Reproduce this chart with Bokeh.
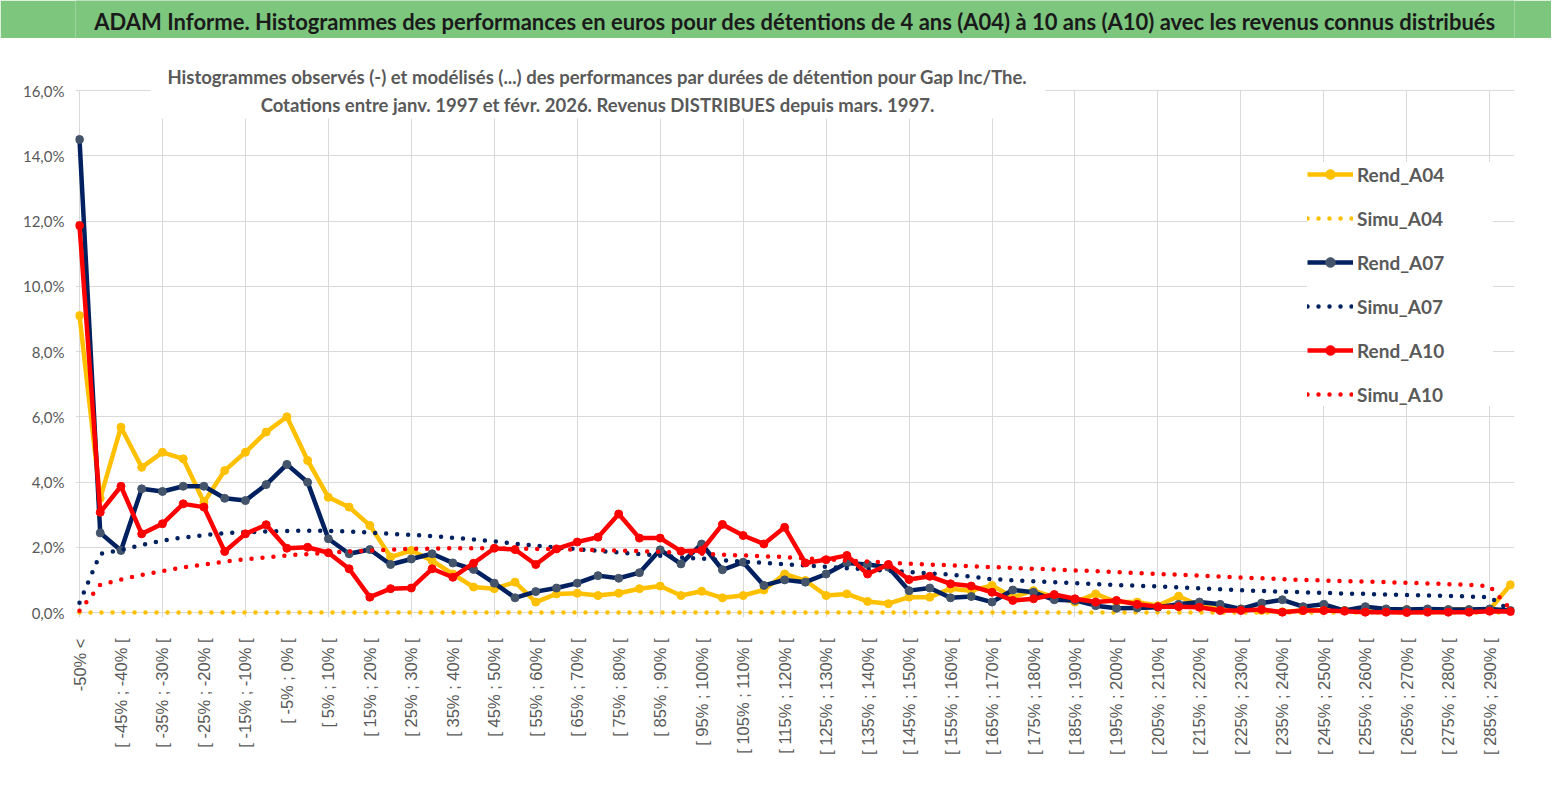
from bokeh.plotting import figure
from bokeh.models import FixedTicker, Legend, LegendItem, Label, BoxAnnotation, Range1d
from bokeh.layouts import column
from bokeh.embed import file_html
from bokeh.resources import INLINE

# ---------------- data ----------------
categories = [
    "-50% <", "[ -50% ; -45% [", "[ -45% ; -40% [", "[ -40% ; -35% [", "[ -35% ; -30% [",
    "[ -30% ; -25% [", "[ -25% ; -20% [", "[ -20% ; -15% [", "[ -15% ; -10% [", "[ -10% ; -5% [",
    "[ -5% ; 0% [", "[ 0% ; 5% [", "[ 5% ; 10% [", "[ 10% ; 15% [", "[ 15% ; 20% [",
    "[ 20% ; 25% [", "[ 25% ; 30% [", "[ 30% ; 35% [", "[ 35% ; 40% [", "[ 40% ; 45% [",
    "[ 45% ; 50% [", "[ 50% ; 55% [", "[ 55% ; 60% [", "[ 60% ; 65% [", "[ 65% ; 70% [",
    "[ 70% ; 75% [", "[ 75% ; 80% [", "[ 80% ; 85% [", "[ 85% ; 90% [", "[ 90% ; 95% [",
    "[ 95% ; 100% [", "[ 100% ; 105% [", "[ 105% ; 110% [", "[ 110% ; 115% [", "[ 115% ; 120% [",
    "[ 120% ; 125% [", "[ 125% ; 130% [", "[ 130% ; 135% [", "[ 135% ; 140% [", "[ 140% ; 145% [",
    "[ 145% ; 150% [", "[ 150% ; 155% [", "[ 155% ; 160% [", "[ 160% ; 165% [", "[ 165% ; 170% [",
    "[ 170% ; 175% [", "[ 175% ; 180% [", "[ 180% ; 185% [", "[ 185% ; 190% [", "[ 190% ; 195% [",
    "[ 195% ; 200% [", "[ 200% ; 205% [", "[ 205% ; 210% [", "[ 210% ; 215% [", "[ 215% ; 220% [",
    "[ 220% ; 225% [", "[ 225% ; 230% [", "[ 230% ; 235% [", "[ 235% ; 240% [", "[ 240% ; 245% [",
    "[ 245% ; 250% [", "[ 250% ; 255% [", "[ 255% ; 260% [", "[ 260% ; 265% [", "[ 265% ; 270% [",
    "[ 270% ; 275% [", "[ 275% ; 280% [", "[ 280% ; 285% [", "[ 285% ; 290% [", "[ 290% ; 295% [",
]

# values in percent
rend_a04 = [9.10, 3.50, 5.68, 4.45, 4.91, 4.71, 3.38, 4.35, 4.91, 5.53,
            6.00, 4.66, 3.53, 3.23, 2.67, 1.70, 1.90, 1.59, 1.18, 0.78,
            0.73, 0.93, 0.32, 0.57, 0.59, 0.52, 0.59, 0.73, 0.81, 0.52,
            0.65, 0.45, 0.52, 0.69, 1.18, 0.98, 0.52, 0.57, 0.34, 0.27,
            0.47, 0.47, 0.73, 0.67, 0.83, 0.47, 0.67, 0.47, 0.32, 0.57,
            0.32, 0.32, 0.21, 0.50, 0.21, 0.11, 0.11, 0.06, 0.02, 0.06,
            0.08, 0.06, 0.02, 0.08, 0.09, 0.09, 0.09, 0.09, 0.09, 0.85]

simu_a04 = [0.00, 0.00, 0.00, 0.00, 0.00, 0.00, 0.00, 0.00, 0.00, 0.00,
            0.00, 0.00, 0.00, 0.00, 0.00, 0.00, 0.00, 0.00, 0.00, 0.00,
            0.00, 0.00, 0.00, 0.00, 0.00, 0.00, 0.00, 0.00, 0.00, 0.00,
            0.00, 0.00, 0.00, 0.00, 0.00, 0.00, 0.00, 0.00, 0.00, 0.00,
            0.00, 0.00, 0.00, 0.00, 0.00, 0.00, 0.00, 0.00, 0.00, 0.00,
            0.00, 0.00, 0.00, 0.00, 0.00, 0.00, 0.00, 0.00, 0.00, 0.00,
            0.00, 0.00, 0.00, 0.00, 0.00, 0.00, 0.00, 0.00, 0.00, 0.00]

rend_a07 = [14.50, 2.44, 1.90, 3.79, 3.71, 3.87, 3.87, 3.50, 3.43, 3.92,
            4.54, 3.99, 2.26, 1.80, 1.93, 1.47, 1.64, 1.80, 1.52, 1.32,
            0.90, 0.45, 0.64, 0.75, 0.90, 1.13, 1.05, 1.22, 1.92, 1.49,
            2.10, 1.31, 1.54, 0.83, 1.00, 0.93, 1.18, 1.52, 1.47, 1.39,
            0.67, 0.75, 0.45, 0.49, 0.32, 0.69, 0.62, 0.39, 0.37, 0.21,
            0.13, 0.14, 0.16, 0.25, 0.32, 0.25, 0.11, 0.29, 0.39, 0.18,
            0.25, 0.06, 0.18, 0.11, 0.09, 0.11, 0.09, 0.09, 0.11, 0.06]

simu_a07 = [0.30, 1.80, 1.92, 2.07, 2.20, 2.30, 2.37, 2.43, 2.46, 2.48,
            2.50, 2.51, 2.50, 2.48, 2.45, 2.41, 2.38, 2.34, 2.29, 2.24,
            2.18, 2.11, 2.05, 1.99, 1.94, 1.89, 1.84, 1.79, 1.74, 1.69,
            1.65, 1.60, 1.56, 1.52, 1.48, 1.44, 1.40, 1.36, 1.32, 1.28,
            1.24, 1.20, 1.16, 1.10, 1.02, 0.99, 0.96, 0.93, 0.90, 0.87,
            0.84, 0.82, 0.80, 0.77, 0.74, 0.71, 0.68, 0.66, 0.64, 0.62,
            0.60, 0.58, 0.57, 0.55, 0.54, 0.52, 0.51, 0.49, 0.47, 0.05]

rend_a10 = [11.86, 3.07, 3.87, 2.41, 2.72, 3.33, 3.23, 1.87, 2.41, 2.69,
            1.97, 2.00, 1.83, 1.34, 0.47, 0.73, 0.75, 1.34, 1.08, 1.51,
            1.97, 1.93, 1.47, 1.95, 2.16, 2.31, 3.02, 2.28, 2.28, 1.88,
            1.90, 2.70, 2.36, 2.10, 2.61, 1.52, 1.62, 1.75, 1.18, 1.47,
            1.01, 1.11, 0.88, 0.81, 0.62, 0.37, 0.42, 0.55, 0.42, 0.32,
            0.37, 0.25, 0.18, 0.18, 0.16, 0.06, 0.06, 0.09, 0.01, 0.06,
            0.06, 0.04, 0.01, 0.01, 0.00, 0.01, 0.01, 0.01, 0.04, 0.03]

simu_a10 = [0.05, 0.85, 1.01, 1.15, 1.27, 1.38, 1.47, 1.56, 1.63, 1.69,
            1.75, 1.79, 1.83, 1.87, 1.90, 1.93, 1.95, 1.96, 1.97, 1.97,
            1.97, 1.96, 1.95, 1.94, 1.93, 1.91, 1.90, 1.88, 1.86, 1.83,
            1.80, 1.77, 1.75, 1.72, 1.70, 1.66, 1.63, 1.59, 1.56, 1.53,
            1.50, 1.47, 1.45, 1.42, 1.39, 1.37, 1.34, 1.32, 1.29, 1.27,
            1.24, 1.21, 1.18, 1.16, 1.13, 1.10, 1.07, 1.05, 1.02, 1.00,
            0.98, 0.96, 0.95, 0.93, 0.91, 0.89, 0.87, 0.85, 0.80, 0.10]

y_ticks = [0, 2, 4, 6, 8, 10, 12, 14, 16]
y_tick_labels = ["0,0%", "2,0%", "4,0%", "6,0%", "8,0%", "10,0%", "12,0%", "14,0%", "16,0%"]

TITLE = ("ADAM Informe. Histogrammes des performances en euros pour des détentions de 4 ans (A04) "
         "à 10 ans (A10) avec les revenus connus distribués")
SUB1 = ("Histogrammes observés (-) et modélisés (...) des performances par durées de détention "
        "pour Gap Inc/The.")
SUB2 = "Cotations entre janv. 1997 et févr. 2026. Revenus DISTRIBUES depuis mars. 1997."

# ---------------- style ----------------
YEL = "#FFC000"
NAVY = "#002060"
NAVY_MK = "#44546A"
RED = "#FF0000"
GREEN = "#7DC67E"
GREY_TXT = "#595959"
GRID = "#D9D9D9"
FONT = "Lato"

W = 1551
TITLE_H = 38                 # green band 0..38 px
MAIN_H = 775 - TITLE_H
TOP0 = TITLE_H               # page y of main figure's top

# page positions of the value axes (layout only)
X_FIRST, X_LAST = 79, 1510   # page x of first / last category
Y_ZERO, Y_TOP = 612, 90      # page y of 0 % and 16 %
ymax = 16
xmax = len(categories) - 1
px_x = (X_LAST - X_FIRST) / xmax
px_y = (Y_ZERO - Y_TOP) / ymax

FL = 75
FR = W - 1514
FT = 60 - TOP0
FB = MAIN_H - (617 - TOP0)
x_start = -(X_FIRST - FL) / px_x
x_end = xmax + ((W - FR) - X_LAST) / px_x
y_start = -(617 - Y_ZERO) / px_y
y_end = ymax + (Y_TOP - 60) / px_y


def ydat(page_y):
    return (Y_ZERO - page_y) / px_y


def xdat(page_x):
    return (page_x - X_FIRST) / px_x


x = list(range(len(categories)))

# ---------------- title band ----------------
# (its frame is aligned with the chart frame by the column layout, so x data == page x)
t = figure(width=W, height=TITLE_H, x_range=Range1d(FL, W - FR), y_range=Range1d(0, TITLE_H),
           toolbar_location=None, output_backend="svg", min_border=0,
           x_axis_type=None, y_axis_type=None,
           background_fill_color=GREEN, border_fill_color=GREEN, outline_line_color=None)
t.grid.visible = False
t.add_layout(Label(x=(FL + W - FR) / 2, y=TITLE_H - 21, text=TITLE, text_font=FONT,
                   text_font_style="bold", text_font_size="22px", text_color="#1A1A1A",
                   text_baseline="middle", text_align="center"))

# ---------------- main chart ----------------
p = figure(width=W, height=MAIN_H, x_range=Range1d(x_start, x_end), y_range=Range1d(y_start, y_end),
           toolbar_location=None, output_backend="svg",
           min_border_left=FL, min_border_right=FR, min_border_top=FT, min_border_bottom=FB,
           background_fill_color="white", border_fill_color="white", outline_line_color=None)

# axes
p.xaxis.ticker = FixedTicker(ticks=x[::2])
p.xaxis.major_label_overrides = {i: categories[i] for i in x[::2]}
p.xaxis.major_label_orientation = 1.5707963267948966
p.xaxis.major_label_text_font = "Liberation Sans"
p.xaxis.major_label_text_font_size = "16.5px"
p.xaxis.major_label_text_color = GREY_TXT
p.xaxis.major_label_standoff = 15
p.xaxis.major_tick_line_color = None
p.xaxis.minor_tick_line_color = None
p.xaxis.axis_line_color = None

p.yaxis.ticker = FixedTicker(ticks=y_ticks)
p.yaxis.major_label_overrides = dict(zip(y_ticks, y_tick_labels))
p.yaxis.major_label_text_font = FONT
p.yaxis.major_label_text_font_size = "15px"
p.yaxis.major_label_text_color = GREY_TXT
p.yaxis.major_label_standoff = 5
p.yaxis.major_tick_line_color = None
p.yaxis.minor_tick_line_color = None
p.yaxis.axis_line_color = None

p.xgrid.ticker = FixedTicker(ticks=x[::4])
p.xgrid.grid_line_color = GRID
p.ygrid.grid_line_color = GRID

# white areas: above the 16 % line, and behind the subtitle
p.add_layout(BoxAnnotation(bottom=ymax + 0.6 / px_y, top=y_end + 1,
                           fill_color="white", fill_alpha=1, line_color=None))
p.add_layout(BoxAnnotation(left=xdat(150), right=xdat(1045), bottom=ydat(118), top=y_end + 1,
                           fill_color="white", fill_alpha=1, line_color=None))

# subtitle
sub_x = xdat(597)
p.add_layout(Label(x=sub_x, y=ydat(76), text=SUB1, text_font=FONT,
                   text_font_style="bold", text_font_size="18.5px", text_color=GREY_TXT,
                   text_align="center", text_baseline="middle"))
p.add_layout(Label(x=sub_x, y=ydat(104), text=SUB2, text_font=FONT,
                   text_font_style="bold", text_font_size="18.5px", text_color=GREY_TXT,
                   text_align="center", text_baseline="middle"))

LW = 4.5
MS = 8
DOT = "0 11"

r1 = p.line(x, rend_a04, line_color=YEL, line_width=LW, line_join="round")
m1 = p.scatter(x, rend_a04, size=MS, fill_color=YEL, line_color=YEL)
s1 = p.line(x, simu_a04, line_color=YEL, line_width=LW, line_dash=DOT, line_cap="round")
r2 = p.line(x, rend_a07, line_color=NAVY, line_width=LW, line_join="round")
m2 = p.scatter(x, rend_a07, size=MS, fill_color=NAVY_MK, line_color=NAVY_MK)
s2 = p.line(x, simu_a07, line_color=NAVY, line_width=LW, line_dash=DOT, line_cap="round")
r3 = p.line(x, rend_a10, line_color=RED, line_width=LW, line_join="round")
m3 = p.scatter(x, rend_a10, size=MS, fill_color=RED, line_color=RED)
s3 = p.line(x, simu_a10, line_color=RED, line_width=LW, line_dash=DOT, line_cap="round")

legend = Legend(items=[
    LegendItem(label="Rend_A04", renderers=[r1, m1]),
    LegendItem(label="Simu_A04", renderers=[s1]),
    LegendItem(label="Rend_A07", renderers=[r2, m2]),
    LegendItem(label="Simu_A07", renderers=[s2]),
    LegendItem(label="Rend_A10", renderers=[r3, m3]),
    LegendItem(label="Simu_A10", renderers=[s3]),
], location=(1307 - FL, 211))
legend.label_text_font = FONT
legend.label_text_font_style = "bold"
legend.label_text_font_size = "19px"
legend.label_text_color = GREY_TXT
legend.glyph_width = 46
legend.glyph_height = 24
legend.label_height = 24
legend.label_width = 136
legend.label_standoff = 4
legend.spacing = 20
legend.padding = 12
legend.margin = 0
legend.border_line_color = None
legend.background_fill_color = "white"
legend.background_fill_alpha = 1.0
p.add_layout(legend)

layout = column(t, p, spacing=0)
open("out.html", "w").write(file_html(layout, INLINE))
